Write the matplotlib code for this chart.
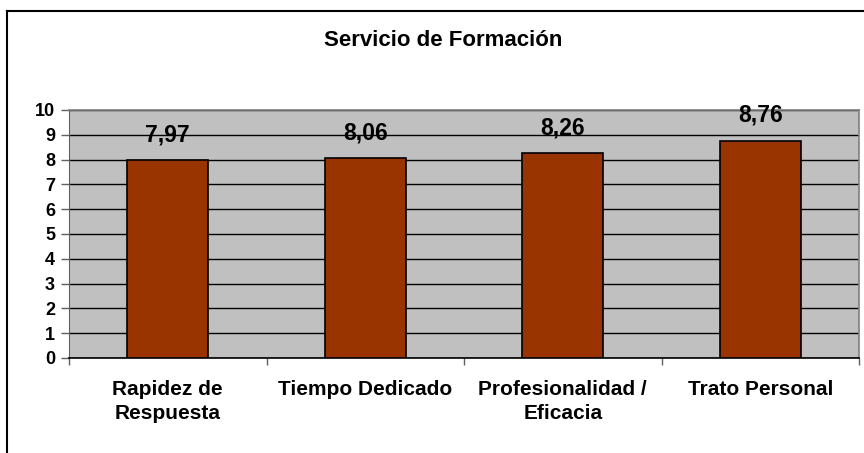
import numpy as np
import matplotlib.pyplot as plt
from matplotlib.lines import Line2D

categorias = ["Rapidez de\nRespuesta", "Tiempo Dedicado", "Profesionalidad /\nEficacia", "Trato Personal"]
valores = [7.97, 8.06, 8.26, 8.76]
etiquetas = ["7,97", "8,06", "8,26", "8,76"]
yticks = list(range(0, 11))

plt.rcParams['font.family'] = ['Liberation Sans', 'DejaVu Sans']

fig = plt.figure(figsize=(8.64, 4.53), dpi=100)
ax = fig.add_axes([69 / 864, 1 - 358 / 453, 790 / 864, 248 / 453])

x = np.arange(len(categorias))
ax.set_facecolor("#C0C0C0")
ax.set_axisbelow(True)
ax.yaxis.grid(True, color="black", linewidth=1.0)
ax.bar(x, valores, width=0.41, color="#993300", edgecolor="black", linewidth=1.2, zorder=3)

for xi, v, t in zip(x, valores, etiquetas):
    ax.annotate(t, (xi, v), xytext=(0, 10), textcoords="offset points",
                ha="center", va="bottom", fontsize=16.5, fontweight="bold")

ax.set_xlim(-0.5, len(categorias) - 0.5)
ax.set_ylim(0, 10)
ax.set_yticks(yticks)
ax.set_yticklabels([str(t) for t in yticks], fontsize=13, fontweight="bold")
ax.set_xticks(x)
ax.set_xticklabels(categorias, fontsize=15, fontweight="bold", linespacing=1.35)
ax.set_xticks(np.arange(-0.5, len(categorias)), minor=True)
ax.tick_params(axis="x", which="major", length=0, pad=16)
ax.tick_params(axis="x", which="minor", length=5, width=1, color="#606060")
ax.tick_params(axis="y", length=6, width=1, color="#606060", pad=4)

for side in ["top", "right"]:
    ax.spines[side].set_color("#808080")
    ax.spines[side].set_linewidth(1.2)
ax.spines["left"].set_color("#606060")
ax.spines["bottom"].set_color("black")
ax.spines["bottom"].set_linewidth(1.2)

# marco exterior del grafico
fig.add_artist(Line2D([7 / 864, 7 / 864], [0, 1 - 11 / 453], color="black", linewidth=1.5))
fig.add_artist(Line2D([7 / 864, 1], [1 - 11 / 453, 1 - 11 / 453], color="black", linewidth=1.5))

fig.text(443 / 864, 1 - 41 / 453, "Servicio de Formación", ha="center", va="center",
         fontsize=16, fontweight="bold")

fig.savefig("out.png", dpi=100)
